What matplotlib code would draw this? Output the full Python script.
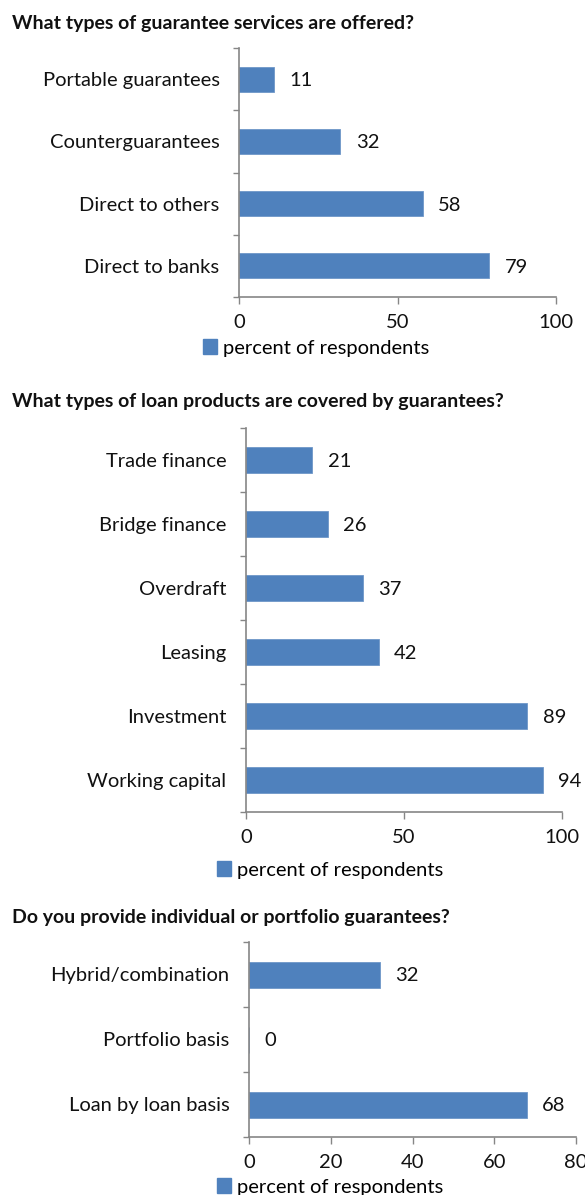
import matplotlib
matplotlib.use("Agg")
import matplotlib.pyplot as plt
from matplotlib.patches import Patch

plt.rcParams['font.family'] = ['Lato', 'DejaVu Sans']

# survey answers, listed top to bottom as shown on each chart
services = ["Portable guarantees", "Counterguarantees", "Direct to others", "Direct to banks"]
services_pct = [11, 32, 58, 79]

products = ["Trade finance", "Bridge finance", "Overdraft", "Leasing", "Investment", "Working capital"]
products_pct = [21, 26, 37, 42, 89, 94]

basis = ["Hybrid/combination", "Portfolio basis", "Loan by loan basis"]
basis_pct = [32, 0, 68]

titles = ["What types of guarantee services are offered?",
          "What types of loan products are covered by guarantees?",
          "Do you provide individual or portfolio guarantees?"]

BAR = "#4F81BD"
AX = "#868686"
W, H = 585, 1195
FS = 14.5

fig = plt.figure(figsize=(W / 100, H / 100), dpi=100)


def panel(box, cats, vals, xmax, xstep, title, title_y, leg_xy):
    left, right, top, bottom = box
    ax = fig.add_axes([left / W, 1 - bottom / H, (right - left) / W, (bottom - top) / H])
    n = len(cats)
    ypos = list(range(n))[::-1]
    ax.barh(ypos, vals, height=0.4, color=BAR, edgecolor="#6F97C8", linewidth=0.6)
    for y, v in zip(ypos, vals):
        ax.annotate(str(v), (v, y), xytext=(11, -1), textcoords="offset points",
                    ha="left", va="center", fontsize=FS, color="#111111")
    ax.set_xlim(0, xmax)
    ax.set_ylim(-0.5, n - 0.5)
    ax.set_xticks(range(0, xmax + 1, xstep))
    ax.set_yticks(ypos)
    ax.set_yticklabels(cats)
    ax.set_yticks([i - 0.5 for i in range(n + 1)], minor=True)
    ax.tick_params(axis="y", which="major", length=0, pad=14, labelsize=FS, labelcolor="#111111")
    ax.tick_params(axis="y", which="minor", length=4, width=1, color=AX)
    ax.tick_params(axis="x", length=5, width=1, color=AX, pad=7, labelsize=FS, labelcolor="#111111")
    for s in ("top", "right"):
        ax.spines[s].set_visible(False)
    for s in ("left", "bottom"):
        ax.spines[s].set_color(AX)
        ax.spines[s].set_linewidth(1.2)
    fig.text(12 / W, 1 - title_y / H, title, fontsize=14, fontweight="bold",
             va="center", ha="left", color="#111111")
    fig.legend(handles=[Patch(color=BAR, label="percent of respondents")],
               loc="center", bbox_to_anchor=(leg_xy[0] / W, 1 - leg_xy[1] / H),
               frameon=False, fontsize=FS, handlelength=0.7, handleheight=0.7,
               handletextpad=0.3, borderpad=0, borderaxespad=0)
    return ax


panel((239, 556, 48, 297), services, services_pct, 100, 50, titles[0], 23, (316, 348))
panel((246, 562, 428, 812), products, products_pct, 100, 50, titles[1], 401, (330, 870))
panel((249, 576, 942, 1137), basis, basis_pct, 80, 20, titles[2], 918, (330, 1187))

fig.savefig("out.png", dpi=100)
